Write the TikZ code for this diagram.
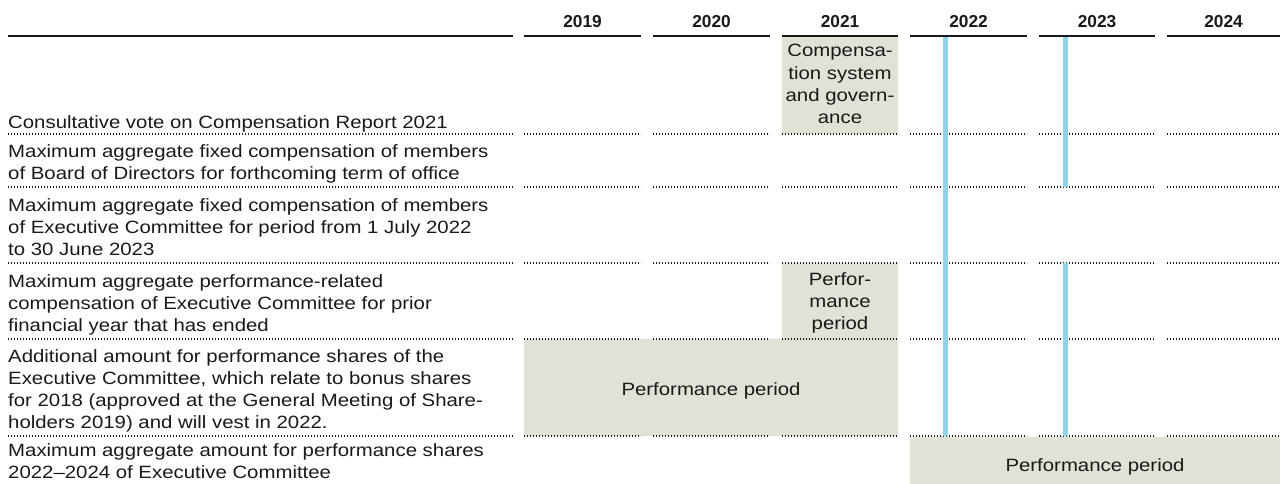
\documentclass[tikz,border=0pt]{standalone}
\usepackage{fontspec}
\setmainfont[FakeStretch=1.145]{Liberation Sans}
\newfontfamily\yearfont{Liberation Sans}
\definecolor{band}{RGB}{225,225,214}
\definecolor{mark}{RGB}{142,211,232}
\definecolor{ink}{RGB}{25,25,25}

\begin{document}
\begin{tikzpicture}[x=1pt,y=-1pt,
  txt/.style={font=\fontsize{17.8}{22.2}\selectfont, text=ink, inner sep=0pt},
  rowlabel/.style={txt, anchor=north west, align=left},
  boxlabel/.style={txt, align=center},
  yearlabel/.style={font=\yearfont\bfseries\fontsize{17.3}{20}\selectfont, text=ink, inner sep=0pt, anchor=base},
  headrule/.style={line width=2pt, draw=ink},
  rowrule/.style={line width=1.3pt, draw=ink, dash pattern=on 1.2pt off 1.8pt},
  marker/.style={line width=5pt, draw=mark},
]
\useasboundingbox (0,0) rectangle (1280,484);

% shaded period bands
\fill[band] (782,37) rectangle (898,134);
\fill[band] (782,263) rectangle (898,339);
\fill[band] (524,339) rectangle (898,436);
\fill[band] (910,437) rectangle (1280,484);

% header rules and year headings
\draw[headrule] (8,36) -- (513,36);
\foreach \l/\r/\yr in {524/641/2019, 653/770/2020, 782/898/2021,
                        910/1027/2022, 1039/1155/2023, 1167/1280/2024} {
  \draw[headrule] (\l,36) -- (\r,36);
  \node[yearlabel] (y\yr) at ({(\l+\r)/2},28) {\yr};
}

% dotted row separators
\foreach \yy in {134,187,263,339,436} {
  \draw[rowrule] (8,\yy) -- (513,\yy);
  \foreach \l/\r in {524/641, 653/770, 782/898, 910/1027, 1039/1155, 1167/1280}
    \draw[rowrule] (\l,\yy) -- (\r,\yy);
}

% meeting markers
\draw[marker] (945.7,37) -- (945.7,436);
\draw[marker] (1065,37) -- (1065,187);
\draw[marker] (1065,263) -- (1065,436);

% row labels
\node[rowlabel] (r1) at (8,115.2) {Consultative vote on Compensation Report 2021};
\node[rowlabel] (r2) at (8,144.2) {Maximum aggregate fixed compensation of members\\of Board of Directors for forthcoming term of office};
\node[rowlabel] (r3) at (8,198.2) {Maximum aggregate fixed compensation of members\\of Executive Committee for period from 1 July 2022\\to 30 June 2023};
\node[rowlabel] (r4) at (8,274.2) {Maximum aggregate performance-related\\compensation of Executive Committee for prior\\financial year that has ended};
\node[rowlabel] (r5) at (8,349.2) {Additional amount for performance shares of the\\Executive Committee, which relate to bonus shares\\for 2018 (approved at the General Meeting of Share-\\holders 2019) and will vest in 2022.};
\node[rowlabel] (r6) at (8,443.2) {Maximum aggregate amount for performance shares\\2022--2024 of Executive Committee};

% band labels
\node[boxlabel, anchor=north] (b1) at (840,44.2) {Compensa-\\tion system\\and govern-\\ance};
\node[boxlabel, anchor=north] (b2) at (840,272.2) {Perfor-\\mance\\period};
\node[boxlabel, anchor=base] (b3) at (711,395) {Performance period};
\node[boxlabel, anchor=base] (b4) at (1095,471) {Performance period};
\end{tikzpicture}
\end{document}
